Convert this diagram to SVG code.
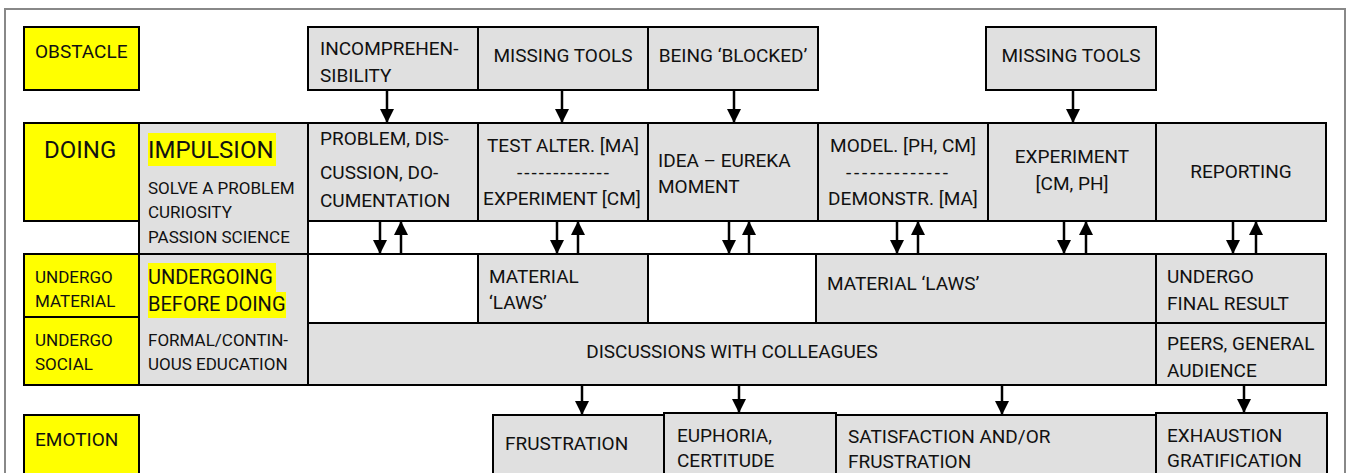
<svg xmlns="http://www.w3.org/2000/svg" width="1348" height="473" viewBox="0 0 1348 473">
<defs>
<marker id="ah" markerUnits="userSpaceOnUse" markerWidth="14" markerHeight="14" refX="14" refY="7" orient="auto"><path d="M0,0 L14,7 L0,14 z" fill="#000"/></marker>
</defs>
<style>
.y{fill:#ffff00;stroke:#000;stroke-width:2}
.g{fill:#e0e0e0;stroke:#000;stroke-width:2}
.w{fill:#fff;stroke:#000;stroke-width:2}
text{font-family:Roboto,"Liberation Sans",sans-serif;font-size:19px;fill:#111}
.s{font-size:17px}
.m{font-size:20px}
.b{font-size:24px}
.c{text-anchor:middle}
.hl{fill:#ffff00;stroke:none}
#connectors line{stroke:#000;stroke-width:2.5;marker-end:url(#ah)}
</style>
<rect x="0" y="0" width="1348" height="473" fill="#fff"/>
<rect x="5" y="9" width="1340" height="480" fill="none" stroke="#888" stroke-width="2"/>

<g id="obstacle-label"><rect class="y" x="24" y="27" width="115" height="63"/><text x="35" y="58">OBSTACLE</text></g>
<g id="doing-label"><rect class="y" x="24" y="123" width="115" height="98"/><text class="b" x="44" y="158">DOING</text></g>
<g id="undergo-material-label"><rect class="y" x="24" y="254" width="115" height="63"/><text class="s" x="35" y="283">UNDERGO</text><text class="s" x="35" y="307">MATERIAL</text></g>
<g id="undergo-social-label"><rect class="y" x="24" y="317" width="115" height="68"/><text class="s" x="35" y="346">UNDERGO</text><text class="s" x="35" y="370">SOCIAL</text></g>
<g id="emotion-label"><rect class="y" x="24" y="415" width="115" height="75"/><text x="35" y="446">EMOTION</text></g>

<g id="impulsion"><rect class="g" x="139" y="123" width="169" height="131"/><rect class="hl" x="148" y="133" width="128" height="33"/><text class="b" x="148" y="158">IMPULSION</text><text class="s" x="148" y="194">SOLVE A PROBLEM</text><text class="s" x="148" y="218">CURIOSITY</text><text class="s" x="148" y="243">PASSION SCIENCE</text></g>
<g id="undergoing"><rect class="g" x="139" y="254" width="169" height="131"/><rect class="hl" x="148" y="263" width="128" height="29"/><rect class="hl" x="148" y="292" width="138" height="26"/><text class="m" x="148" y="284">UNDERGOING</text><text class="m" x="148" y="311">BEFORE DOING</text><text class="s" x="148" y="346">FORMAL/CONTIN-</text><text class="s" x="148" y="370">UOUS EDUCATION</text></g>

<g id="obs-incomprehensibility"><rect class="g" x="308" y="27" width="170" height="63"/><text x="320" y="55">INCOMPREHEN-</text><text x="320" y="82">SIBILITY</text></g>
<g id="obs-missing-tools-1"><rect class="g" x="478" y="27" width="170" height="63"/><text class="c" x="563" y="62">MISSING TOOLS</text></g>
<g id="obs-blocked"><rect class="g" x="648" y="27" width="170" height="63"/><text class="c" x="733" y="62">BEING ‘BLOCKED’</text></g>
<g id="obs-missing-tools-2"><rect class="g" x="986" y="27" width="170" height="63"/><text class="c" x="1071" y="62">MISSING TOOLS</text></g>

<g id="do-problem"><rect class="g" x="308" y="123" width="170" height="98"/><text x="320" y="145">PROBLEM, DIS-</text><text x="320" y="179">CUSSION, DO-</text><text x="320" y="207">CUMENTATION</text></g>
<g id="do-test"><rect class="g" x="478" y="123" width="170" height="98"/><text class="c" x="563" y="152">TEST ALTER. [MA]</text><text class="c" x="563" y="179" textLength="92" lengthAdjust="spacing">-------------</text><text class="c" x="562" y="205">EXPERIMENT [CM]</text></g>
<g id="do-idea"><rect class="g" x="648" y="123" width="170" height="98"/><text x="658" y="167">IDEA – EUREKA</text><text x="658" y="193">MOMENT</text></g>
<g id="do-model"><rect class="g" x="818" y="123" width="170" height="98"/><text class="c" x="903" y="152">MODEL. [PH, CM]</text><text class="c" x="897" y="179" textLength="102" lengthAdjust="spacing">-------------</text><text class="c" x="903" y="205">DEMONSTR. [MA]</text></g>
<g id="do-experiment"><rect class="g" x="988" y="123" width="168" height="98"/><text class="c" x="1072" y="163">EXPERIMENT</text><text class="c" x="1072" y="190">[CM, PH]</text></g>
<g id="do-reporting"><rect class="g" x="1156" y="123" width="170" height="98"/><text class="c" x="1241" y="178">REPORTING</text></g>

<g id="mat-empty-1"><rect class="w" x="308" y="254" width="170" height="69"/></g>
<g id="mat-laws-1"><rect class="g" x="478" y="254" width="170" height="69"/><text x="489" y="283">MATERIAL</text><text x="489" y="309">‘LAWS’</text></g>
<g id="mat-empty-2"><rect class="w" x="648" y="254" width="168" height="69"/></g>
<g id="mat-laws-2"><rect class="g" x="816" y="254" width="340" height="69"/><text x="827" y="290">MATERIAL ‘LAWS’</text></g>
<g id="mat-final"><rect class="g" x="1156" y="254" width="170" height="69"/><text x="1167" y="283">UNDERGO</text><text x="1167" y="310">FINAL RESULT</text></g>

<g id="soc-discussions"><rect class="g" x="308" y="323" width="848" height="62"/><text class="c" x="732" y="358">DISCUSSIONS WITH COLLEAGUES</text></g>
<g id="soc-peers"><rect class="g" x="1156" y="323" width="170" height="62"/><text x="1167" y="350">PEERS, GENERAL</text><text x="1167" y="377">AUDIENCE</text></g>

<g id="emo-frustration"><rect class="g" x="493" y="415" width="171" height="75"/><text x="505" y="450">FRUSTRATION</text></g>
<g id="emo-euphoria"><rect class="g" x="664" y="413" width="172" height="77"/><text x="677" y="442">EUPHORIA,</text><text x="677" y="467">CERTITUDE</text></g>
<g id="emo-satisfaction"><rect class="g" x="836" y="415" width="320" height="75"/><text x="848" y="443">SATISFACTION AND/OR</text><text x="848" y="468">FRUSTRATION</text></g>
<g id="emo-exhaustion"><rect class="g" x="1156" y="413" width="171" height="77"/><text x="1167" y="442">EXHAUSTION</text><text x="1167" y="467">GRATIFICATION</text></g>

<g id="connectors">
<line x1="387" y1="90" x2="387" y2="123"/>
<line x1="562" y1="90" x2="562" y2="123"/>
<line x1="734" y1="90" x2="734" y2="123"/>
<line x1="1073" y1="90" x2="1073" y2="123"/>
<line x1="380" y1="221" x2="380" y2="254"/><line x1="401" y1="254" x2="401" y2="221"/>
<line x1="557" y1="221" x2="557" y2="254"/><line x1="578" y1="254" x2="578" y2="221"/>
<line x1="729" y1="221" x2="729" y2="254"/><line x1="749" y1="254" x2="749" y2="221"/>
<line x1="897" y1="221" x2="897" y2="254"/><line x1="918" y1="254" x2="918" y2="221"/>
<line x1="1064" y1="221" x2="1064" y2="254"/><line x1="1086" y1="254" x2="1086" y2="221"/>
<line x1="1233" y1="221" x2="1233" y2="254"/><line x1="1256" y1="254" x2="1256" y2="221"/>
<line x1="582" y1="385" x2="582" y2="415"/>
<line x1="739" y1="385" x2="739" y2="413"/>
<line x1="1002" y1="385" x2="1002" y2="415"/>
<line x1="1244" y1="385" x2="1244" y2="413"/>
</g>
</svg>
